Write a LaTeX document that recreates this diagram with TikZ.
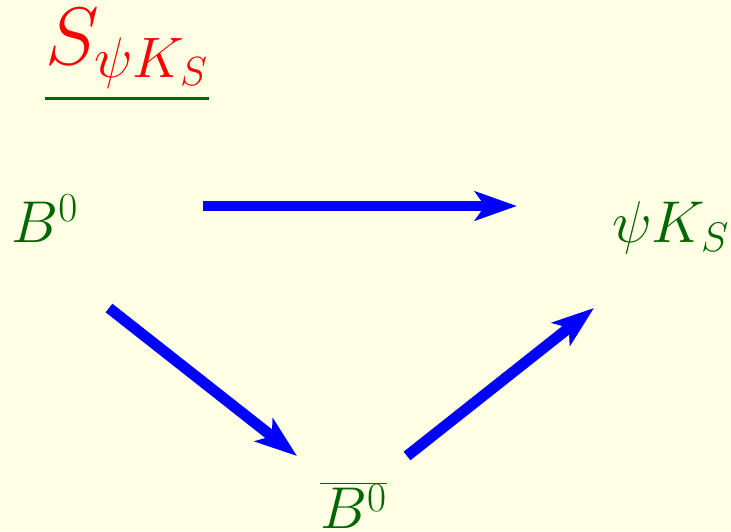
\RequirePackage{fix-cm}
\documentclass[tikz,border=0pt]{standalone}
\usepackage{xcolor}
\usepackage{tikz}
\usetikzlibrary{arrows.meta}
\definecolor{MXPaper}{HTML}{FFFFE3}
\definecolor{MXGreen}{HTML}{006600}
\definecolor{MXRed}{HTML}{FF0000}
\definecolor{MXBlue}{HTML}{0000FF}
\tikzset{
  state/.style={anchor=base west,inner sep=0pt,text=MXGreen,font=\fontsize{42}{46}\selectfont},
  flow/.style={draw=MXBlue,line width=7.8pt,-{Stealth[length=1.05cm,width=0.725cm,inset=0.25cm]}}
}

\begin{document}
\begin{tikzpicture}[x=1cm,y=1cm]
\fill[MXPaper] (0,0) rectangle (18.275,13.275);
\path[use as bounding box] (0,0) rectangle (18.275,13.275);
% title
\node[anchor=base west,inner sep=0pt,text=MXRed,font=\fontsize{58}{62}\selectfont] (title) at (1.12,11.65) {$S_{\psi K_S}$};
\draw[MXGreen,line width=2.2pt] ([yshift=-0.25cm]title.south west) -- ([yshift=-0.25cm]title.south east);
% states
\node[state] (b0) at (0.28,7.20) {$B^0$};
\node[state] (psik) at (15.30,7.20) {$\psi K_S$};
\node[state] (b0bar) at (8.00,0.06) {$\overline{B^0}$};
% transitions
\draw[flow] ([shift={(4.795,0.925)}]b0.base west) -- ([shift={(-2.375,0.925)}]psik.base west);
\draw[flow] ([shift={(2.445,-1.625)}]b0.base west) -- ([shift={(-0.575,1.815)}]b0bar.base west);
\draw[flow] ([shift={(2.175,1.815)}]b0bar.base west) -- ([shift={(-0.45,-1.625)}]psik.base west);
\end{tikzpicture}
\end{document}
